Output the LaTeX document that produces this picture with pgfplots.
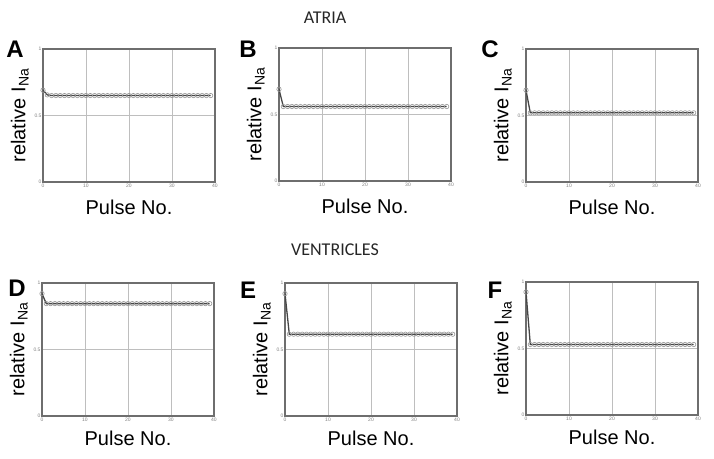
\documentclass[border=0pt]{standalone}
\usepackage{fontspec}
\setmainfont{Liberation Sans}
\newfontfamily\calib{Carlito}
\usepackage{pgfplots}
\pgfplotsset{compat=1.18}
\definecolor{boxgray}{RGB}{110,110,110}
\definecolor{gridgray}{RGB}{190,190,190}
\definecolor{linegray}{RGB}{70,70,70}
\definecolor{markgray}{RGB}{150,150,150}
\pgfplotsset{panel/.style={
  width=172pt, height=133pt, scale only axis, anchor=south west,
  xmin=0, xmax=40, ymin=0, ymax=1,
  xtick={0,10,20,30,40}, ytick={0,0.5,1}, yticklabels={0,0.5,1},
  grid=major, major grid style={gridgray, line width=0.7pt},
  axis line style={boxgray, line width=1.2pt},
  tick style={draw=none},
  tick label style={font=\fontsize{5}{5}\selectfont, text=gray},
  /pgf/number format/assume math mode=true,
  xticklabel style={yshift=2pt},
  yticklabel style={xshift=2pt},
  xlabel={Pulse No.}, ylabel={relative I\textsubscript{Na}},
  label style={font=\fontsize{20}{20}\selectfont},
  ylabel style={at={(axis description cs:-0.135,0.5)}, anchor=center},
  xlabel style={at={(axis description cs:0.5,-0.19)}, anchor=center},
},
myplot/.style={draw=linegray, line width=1.3pt, mark=o, mark size=2.2pt,
    mark options={draw=markgray, fill=none, line width=0.6pt}}}
\begin{document}
\begin{tikzpicture}[x=1pt,y=1pt]
\path[use as bounding box] (0,0) rectangle (714,458);
\node[font=\calib\fontsize{18}{18}\selectfont, text=black!85] at (325,440.5) {ATRIA};
\node[font=\calib\fontsize{18}{18}\selectfont, text=black!85] at (335,208.5) {VENTRICLES};
% A
\begin{axis}[panel, at={(43pt,276pt)}]
\addplot[myplot] coordinates {(0,0.69)(1,0.655)(2,0.65)(3,0.65)(4,0.65)(5,0.65)(6,0.65)(7,0.65)(8,0.65)(9,0.65)(10,0.65)(11,0.65)(12,0.65)(13,0.65)(14,0.65)(15,0.65)(16,0.65)(17,0.65)(18,0.65)(19,0.65)(20,0.65)(21,0.65)(22,0.65)(23,0.65)(24,0.65)(25,0.65)(26,0.65)(27,0.65)(28,0.65)(29,0.65)(30,0.65)(31,0.65)(32,0.65)(33,0.65)(34,0.65)(35,0.65)(36,0.65)(37,0.65)(38,0.65)(39,0.65)};
\end{axis}
% B
\begin{axis}[panel, at={(279pt,277pt)}]
\addplot[myplot] coordinates {(0,0.69)(1,0.56)(2,0.56)(3,0.56)(4,0.56)(5,0.56)(6,0.56)(7,0.56)(8,0.56)(9,0.56)(10,0.56)(11,0.56)(12,0.56)(13,0.56)(14,0.56)(15,0.56)(16,0.56)(17,0.56)(18,0.56)(19,0.56)(20,0.56)(21,0.56)(22,0.56)(23,0.56)(24,0.56)(25,0.56)(26,0.56)(27,0.56)(28,0.56)(29,0.56)(30,0.56)(31,0.56)(32,0.56)(33,0.56)(34,0.56)(35,0.56)(36,0.56)(37,0.56)(38,0.56)(39,0.56)};
\end{axis}
% C
\begin{axis}[panel, at={(526pt,276pt)}]
\addplot[myplot] coordinates {(0,0.69)(1,0.52)(2,0.52)(3,0.52)(4,0.52)(5,0.52)(6,0.52)(7,0.52)(8,0.52)(9,0.52)(10,0.52)(11,0.52)(12,0.52)(13,0.52)(14,0.52)(15,0.52)(16,0.52)(17,0.52)(18,0.52)(19,0.52)(20,0.52)(21,0.52)(22,0.52)(23,0.52)(24,0.52)(25,0.52)(26,0.52)(27,0.52)(28,0.52)(29,0.52)(30,0.52)(31,0.52)(32,0.52)(33,0.52)(34,0.52)(35,0.52)(36,0.52)(37,0.52)(38,0.52)(39,0.52)};
\end{axis}
% D
\begin{axis}[panel, at={(42pt,42pt)}, xlabel style={at={(axis description cs:0.5,-0.165)}}]
\addplot[myplot] coordinates {(0,0.92)(1,0.845)(2,0.845)(3,0.845)(4,0.845)(5,0.845)(6,0.845)(7,0.845)(8,0.845)(9,0.845)(10,0.845)(11,0.845)(12,0.845)(13,0.845)(14,0.845)(15,0.845)(16,0.845)(17,0.845)(18,0.845)(19,0.845)(20,0.845)(21,0.845)(22,0.845)(23,0.845)(24,0.845)(25,0.845)(26,0.845)(27,0.845)(28,0.845)(29,0.845)(30,0.845)(31,0.845)(32,0.845)(33,0.845)(34,0.845)(35,0.845)(36,0.845)(37,0.845)(38,0.845)(39,0.845)};
\end{axis}
% E
\begin{axis}[panel, at={(285pt,42pt)}, xlabel style={at={(axis description cs:0.5,-0.165)}}]
\addplot[myplot] coordinates {(0,0.92)(1,0.615)(2,0.615)(3,0.615)(4,0.615)(5,0.615)(6,0.615)(7,0.615)(8,0.615)(9,0.615)(10,0.615)(11,0.615)(12,0.615)(13,0.615)(14,0.615)(15,0.615)(16,0.615)(17,0.615)(18,0.615)(19,0.615)(20,0.615)(21,0.615)(22,0.615)(23,0.615)(24,0.615)(25,0.615)(26,0.615)(27,0.615)(28,0.615)(29,0.615)(30,0.615)(31,0.615)(32,0.615)(33,0.615)(34,0.615)(35,0.615)(36,0.615)(37,0.615)(38,0.615)(39,0.615)};
\end{axis}
% F
\begin{axis}[panel, at={(526pt,43pt)}, xlabel style={at={(axis description cs:0.5,-0.165)}}]
\addplot[myplot] coordinates {(0,0.925)(1,0.53)(2,0.53)(3,0.53)(4,0.53)(5,0.53)(6,0.53)(7,0.53)(8,0.53)(9,0.53)(10,0.53)(11,0.53)(12,0.53)(13,0.53)(14,0.53)(15,0.53)(16,0.53)(17,0.53)(18,0.53)(19,0.53)(20,0.53)(21,0.53)(22,0.53)(23,0.53)(24,0.53)(25,0.53)(26,0.53)(27,0.53)(28,0.53)(29,0.53)(30,0.53)(31,0.53)(32,0.53)(33,0.53)(34,0.53)(35,0.53)(36,0.53)(37,0.53)(38,0.53)(39,0.53)};
\end{axis}
\node[font=\bfseries\fontsize{24}{24}\selectfont] at (15,409) {A};
\node[font=\bfseries\fontsize{24}{24}\selectfont] at (248,409) {B};
\node[font=\bfseries\fontsize{24}{24}\selectfont] at (490,409) {C};
\node[font=\bfseries\fontsize{24}{24}\selectfont] at (17,170) {D};
\node[font=\bfseries\fontsize{24}{24}\selectfont] at (248,168) {E};
\node[font=\bfseries\fontsize{24}{24}\selectfont] at (495,168) {F};
\end{tikzpicture}
\end{document}
